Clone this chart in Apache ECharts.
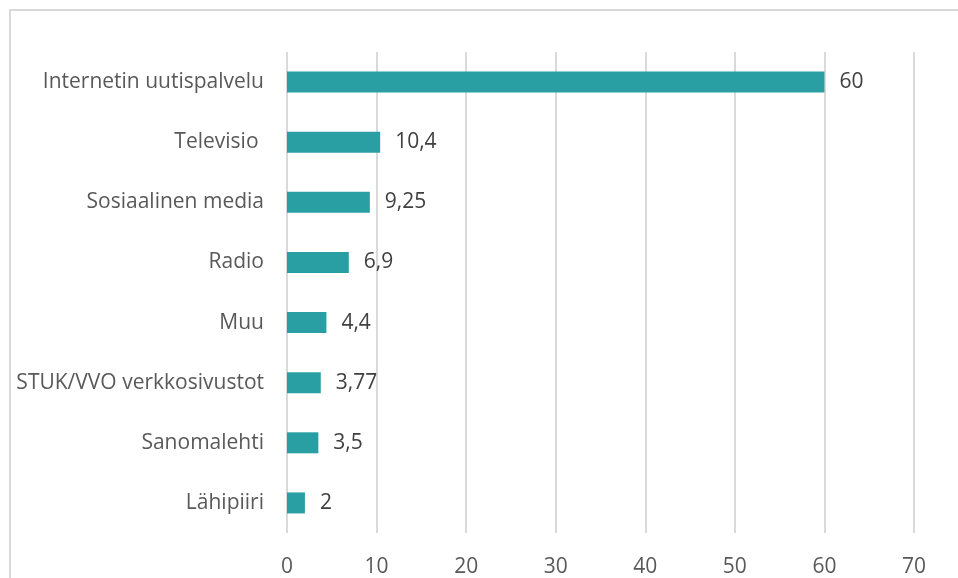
<!DOCTYPE html>
<html>
<head>
<meta charset="utf-8">
<script src="https://cdn.jsdelivr.net/npm/echarts@6/dist/echarts.min.js"></script>
<style>
  html, body { margin: 0; padding: 0; background: #fff; }
  #frame { position: absolute; left: 9px; top: 9px; width: 949px; height: 569px;
           border-top: 2px solid #d9d9d9; border-left: 2px solid #d9d9d9; box-sizing: border-box; }
  #chart { position: absolute; left: 0; top: 0; width: 958px; height: 578px; }
</style>
</head>
<body>
<div id="frame"></div>
<div id="chart"></div>
<script>
var categories = ['Internetin uutispalvelu', 'Televisio ', 'Sosiaalinen media', 'Radio', 'Muu',
                  'STUK/VVO verkkosivustot', 'Sanomalehti', 'Lähipiiri'];
var values = [60, 10.4, 9.25, 6.9, 4.4, 3.77, 3.5, 2];
var valueLabels = ['60', '10,4', '9,25', '6,9', '4,4', '3,77', '3,5', '2'];

var chart = echarts.init(document.getElementById('chart'));

var option = {
    animation: false,
    grid: { left: 287, right: 44, top: 52, bottom: 45, containLabel: false },
    xAxis: {
        type: 'value',
        min: 0,
        max: 70,
        interval: 10,
        axisLine: { show: false },
        axisTick: { show: false },
        axisLabel: { color: '#595959', fontSize: 21, fontFamily: 'Open Sans', margin: 24 },
        splitLine: { lineStyle: { color: '#d9d9d9', width: 2 } }
    },
    yAxis: {
        type: 'category',
        inverse: true,
        data: categories,
        axisLine: { show: false },
        axisTick: { show: false },
        axisLabel: { color: '#595959', fontSize: 21, fontFamily: 'Open Sans', margin: 23 }
    },
    series: [{
        type: 'bar',
        data: values,
        barWidth: 21,
        itemStyle: { color: '#2a9fa3' },
        label: {
            show: true,
            position: 'right',
            distance: 15,
            color: '#404040',
            fontSize: 21,
            fontFamily: 'Open Sans',
            formatter: function (p) { return valueLabels[p.dataIndex]; }
        }
    }]
};

chart.setOption(option);
</script>
</body>
</html>
